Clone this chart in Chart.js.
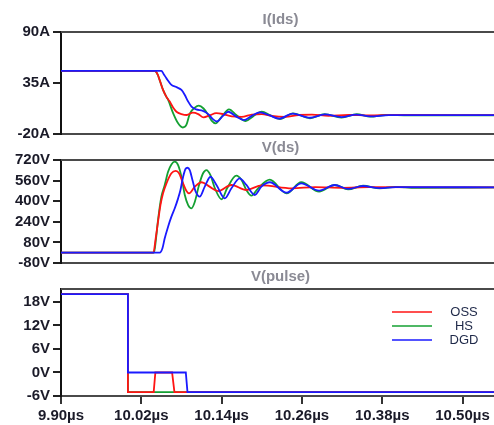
<!DOCTYPE html>
<html>
<head>
<meta charset="utf-8">
<script src="https://cdn.jsdelivr.net/npm/chart.js@4.4.0/dist/chart.umd.min.js"></script>
<style>
  html, body { margin: 0; padding: 0; background: #fff; overflow: hidden; }
  #wrap { position: relative; width: 494px; height: 425px; overflow: hidden; }
  #wrap canvas { position: absolute; left: 0; top: 0; }
</style>
</head>
<body>
<div id="wrap">
  <canvas id="idsChart" width="500" height="425"></canvas>
  <canvas id="vdsChart" width="500" height="425"></canvas>
  <canvas id="pulseChart" width="500" height="425"></canvas>
</div>
<script>
// time axis (µs)
const timeTicks = [9.90, 10.02, 10.14, 10.26, 10.38, 10.50];
const timeMin = 9.90;
const timeMax = 10.556;

const seriesNames = ["OSS", "HS", "DGD"];
const seriesColors = ["#ff1414", "#14a032", "#1a1aff"];

// I(Ids) in A, [time, value]
const idsTicks = [-20, 35, 90];
const idsOss = [
  [9.90, 48], [10.040, 48], [10.0445, 44], [10.0475, 38], [10.0525, 27.5], [10.0575, 20],
  [10.0625, 15], [10.0675, 8.5], [10.0725, 4], [10.080, 1.5], [10.088, 0.5], [10.097, 3],
  [10.105, 1.5], [10.113, -2], [10.122, 0], [10.132, 2.5], [10.142, 1.5], [10.155, -1],
  [10.170, -1.5], [10.185, 1], [10.200, 1.5], [10.215, -0.5], [10.235, -1.5], [10.255, 0.5],
  [10.275, 1], [10.300, -0.5], [10.330, 0.5], [10.360, 0], [10.400, 0.5], [10.556, 0.3]
];
const idsHs = [
  [9.90, 48], [10.040, 48], [10.0445, 44], [10.0475, 38], [10.0525, 27.5], [10.0575, 20],
  [10.060, 17], [10.0675, 2.5], [10.075, -8.5], [10.082, -13], [10.0875, -10], [10.0925, 2],
  [10.100, 8.5], [10.106, 10.5], [10.113, 7.5], [10.120, 0.5], [10.125, -5.5], [10.131, -8.5],
  [10.140, -1.5], [10.151, 6.5], [10.162, 0.5], [10.176, -6], [10.187, -1], [10.200, 4],
  [10.213, 0], [10.227, -3.8], [10.247, 2.3], [10.272, -3], [10.294, 1.4], [10.319, -2.3],
  [10.342, 1.4], [10.362, -1.3], [10.385, 0.5], [10.420, 0], [10.556, 0.2]
];
const idsDgd = [
  [9.90, 48], [10.050, 48], [10.0535, 44.5], [10.0576, 40], [10.065, 33], [10.0725, 30.5],
  [10.080, 27.5], [10.085, 22], [10.090, 15], [10.095, 9.5], [10.102, 6.5], [10.112, 5],
  [10.120, 1.5], [10.127, -4], [10.133, -6.5], [10.142, -0.5], [10.150, 4], [10.162, -1.3],
  [10.173, -5], [10.185, -0.5], [10.197, 3.4], [10.212, 0], [10.226, -3.5], [10.246, 2],
  [10.272, -2.5], [10.294, 1.2], [10.319, -1.8], [10.341, 1], [10.362, -1], [10.390, 0.3],
  [10.556, 0.3]
];

// V(ds) in V, [time, value]
const vdsTicks = [-80, 80, 240, 400, 560, 720];
const vdsOss = [
  [9.90, 0], [10.038, 0], [10.0415, 112], [10.045, 241], [10.0486, 370], [10.0525, 461],
  [10.0576, 539], [10.065, 617], [10.0715, 635], [10.0764, 617], [10.0815, 551], [10.0875, 479],
  [10.0913, 461], [10.100, 513], [10.110, 547], [10.122, 513], [10.1347, 479], [10.1547, 526],
  [10.177, 487], [10.200, 523], [10.245, 500], [10.280, 510], [10.320, 504], [10.360, 509],
  [10.556, 507]
];
const vdsHs = [
  [9.90, 0], [10.039, 0], [10.042, 110], [10.045, 254], [10.050, 435], [10.055, 526],
  [10.060, 629], [10.065, 686], [10.070, 707], [10.075, 681], [10.080, 590], [10.085, 448],
  [10.090, 370], [10.095, 345], [10.100, 396], [10.1063, 526], [10.1123, 617], [10.1173, 642],
  [10.1233, 603], [10.130, 500], [10.140, 415], [10.1482, 500], [10.162, 598], [10.1697, 565],
  [10.177, 487], [10.1846, 443], [10.1945, 500], [10.212, 568], [10.237, 461], [10.259, 547],
  [10.2857, 474], [10.309, 526], [10.329, 492], [10.3514, 520], [10.3764, 500], [10.400, 512],
  [10.430, 504], [10.556, 507]
];
const vdsDgd = [
  [9.90, 0], [10.0475, 0], [10.0516, 34], [10.055, 112], [10.060, 202], [10.065, 280],
  [10.070, 345], [10.075, 422], [10.0785, 487], [10.0825, 590], [10.086, 650], [10.089, 660],
  [10.0924, 642], [10.0964, 565], [10.1013, 474], [10.1073, 435], [10.1148, 513], [10.1233, 590],
  [10.1323, 526], [10.1447, 422], [10.1547, 500], [10.167, 578], [10.177, 526], [10.1895, 448],
  [10.1995, 513], [10.212, 547], [10.237, 466], [10.259, 539], [10.2857, 482], [10.309, 526],
  [10.329, 495], [10.351, 518], [10.376, 502], [10.400, 510], [10.556, 507]
];

// V(pulse) in V, [time, value]
const pulseTicks = [-6, 0, 6, 12, 18];
const pulseOss = [
  [9.90, 20], [10.00, 20], [10.00, -5], [10.0385, -5], [10.041, 0], [10.066, 0],
  [10.0695, -5], [10.556, -5]
];
const pulseHs = [[9.90, 20], [10.00, 20], [10.00, -5], [10.556, -5]];
const pulseDgd = [
  [9.90, 20], [10.00, 20], [10.00, 0], [10.0865, 0], [10.089, -5], [10.556, -5]
];

const fontFamily = '"Liberation Sans", Arial, sans-serif';
const labelColor = "#1a1a28";
const frameColor = "#4a4a4a";

// blue on top, green underneath
const drawOrder = [1, 2, 0];

const toPoints = (pairs) => pairs.map(([x, y]) => ({ x, y }));

// panel caption + top edge of the frame
const panelTitle = {
  id: "panelTitle",
  afterDraw(chart, args, opts) {
    const { ctx, chartArea } = chart;
    ctx.save();
    ctx.strokeStyle = frameColor;
    ctx.lineWidth = 2;
    ctx.beginPath();
    ctx.moveTo(chartArea.left, chartArea.top);
    ctx.lineTo(chartArea.right, chartArea.top);
    ctx.stroke();
    ctx.font = `bold 15px ${fontFamily}`;
    ctx.fillStyle = "#8a8a94";
    ctx.textAlign = "center";
    ctx.textBaseline = "middle";
    ctx.fillText(opts.text, (chartArea.left + chartArea.right) / 2, chartArea.top - 12);
    ctx.restore();
  }
};

// trace key inside the pulse panel
const traceKey = {
  id: "traceKey",
  afterDatasetsDraw(chart, args, opts) {
    if (!opts.show) return;
    const { ctx } = chart;
    ctx.save();
    chart.data.datasets.forEach((ds, i) => {
      const y = opts.top + i * opts.rowGap;
      ctx.globalAlpha = 0.75;
      ctx.strokeStyle = ds.borderColor;
      ctx.lineWidth = 2;
      ctx.beginPath();
      ctx.moveTo(opts.lineLeft, y);
      ctx.lineTo(opts.lineRight, y);
      ctx.stroke();
      ctx.globalAlpha = 1;
      ctx.font = `13px ${fontFamily}`;
      ctx.fillStyle = "#1e2848";
      ctx.textAlign = "center";
      ctx.textBaseline = "middle";
      ctx.fillText(ds.label, opts.textCenter, y);
    });
    ctx.restore();
  }
};

function makePanel(id, cfg) {
  return new Chart(document.getElementById(id), {
    type: "line",
    data: {
      datasets: cfg.series.map((pairs, i) => ({
        label: seriesNames[i],
        data: toPoints(pairs),
        borderColor: seriesColors[i],
        borderWidth: 1.8,
        pointRadius: 0,
        tension: 0,
        cubicInterpolationMode: cfg.smooth ? "monotone" : "default",
        order: drawOrder[i]
      }))
    },
    plugins: [panelTitle, traceKey],
    options: {
      responsive: false,
      animation: false,
      events: [],
      layout: { padding: { top: cfg.top, bottom: cfg.bottom, left: 0, right: 0 } },
      plugins: {
        legend: { display: false },
        tooltip: { enabled: false },
        panelTitle: { text: cfg.title },
        traceKey: { show: !!cfg.key, top: 312, rowGap: 14, lineLeft: 392, lineRight: 432, textCenter: 464 }
      },
      scales: {
        x: {
          type: "linear",
          min: timeMin,
          max: timeMax,
          afterBuildTicks: (axis) => { axis.ticks = timeTicks.map((v) => ({ value: v })); },
          afterFit: (axis) => { axis.height = cfg.showTime ? 29 : 0; },
          ticks: {
            display: !!cfg.showTime,
            autoSkip: false,
            maxRotation: 0,
            padding: 3,
            color: labelColor,
            font: { family: fontFamily, size: 15, weight: "bold" },
            callback: (v) => v.toFixed(2) + "µs"
          },
          grid: {
            display: !!cfg.showTime,
            drawOnChartArea: false,
            tickLength: 8,
            lineWidth: 2,
            color: "#333"
          },
          border: { display: true, color: frameColor, width: 2 }
        },
        y: {
          min: cfg.min,
          max: cfg.max,
          afterBuildTicks: (axis) => { axis.ticks = cfg.ticks.map((v) => ({ value: v })); },
          afterFit: (axis) => { axis.width = 61; },
          ticks: {
            autoSkip: false,
            padding: 3,
            color: labelColor,
            font: { family: fontFamily, size: 15, weight: "bold" },
            callback: (v) => v + cfg.unit
          },
          grid: { drawOnChartArea: false, tickLength: 8, lineWidth: 2, color: "#222" },
          border: { display: true, color: "#111", width: 2 }
        }
      }
    }
  });
}

makePanel("idsChart", {
  title: "I(Ids)", unit: "A", min: -20, max: 90, ticks: idsTicks,
  series: [idsOss, idsHs, idsDgd], smooth: true, top: 32, bottom: 291
});

makePanel("vdsChart", {
  title: "V(ds)", unit: "V", min: -80, max: 720, ticks: vdsTicks,
  series: [vdsOss, vdsHs, vdsDgd], smooth: true, top: 160, bottom: 162
});

makePanel("pulseChart", {
  title: "V(pulse)", unit: "V", min: -6, max: 21.3, ticks: pulseTicks,
  series: [pulseOss, pulseHs, pulseDgd], smooth: false, top: 289, bottom: 0,
  showTime: true, key: true
});
</script>
</body>
</html>
